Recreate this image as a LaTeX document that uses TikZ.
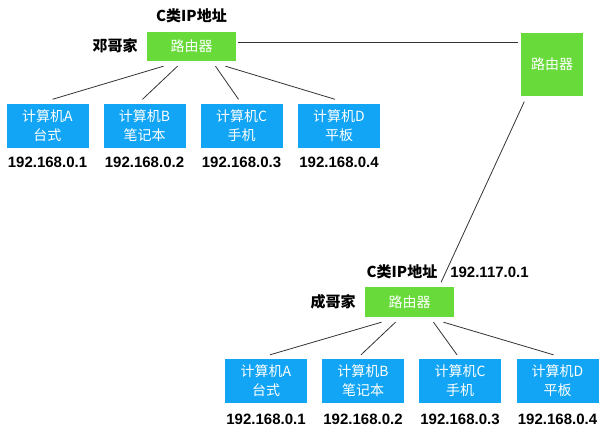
\documentclass[tikz,border=0pt]{standalone}
\usepackage{fontspec}
\setmainfont{Noto Sans CJK SC}
\newfontfamily\ipfont{Liberation Sans}
\definecolor{routergreen}{RGB}{104,219,58}
\definecolor{pcblue}{RGB}{18,165,245}
\begin{document}
\begin{tikzpicture}[x=1pt,y=-1pt,
        router/.style = {fill=routergreen,text=white,inner sep=0pt,font=\fontsize{14}{16}\selectfont},
        pc/.style = {fill=pcblue,text=white,inner sep=0pt,minimum width=82,minimum height=44,
                     align=center,font=\fontsize{14}{19}\selectfont},
        ip/.style = {font=\ipfont\fontsize{15}{17}\selectfont\bfseries},
        tag/.style = {font=\fontsize{15}{17}\selectfont\bfseries},
        link/.style = {thick,black!80}]
    \useasboundingbox (0,0) rectangle (614,432);
    % 邓哥家
    \node[router,minimum width=89,minimum height=29] (r1) at (191.5,46.5) {路由器};
    \node[tag] (n1) at (115,46) {邓哥家};
    \node[tag] (c1) at (191.5,16) {C类IP地址};
    \node[pc] (a1) at (47.5,125.5) {计算机A\\台式};
    \node[pc] (b1) at (144.5,125.5) {计算机B\\笔记本};
    \node[pc] (c1pc) at (241.5,125.5) {计算机C\\手机};
    \node[pc] (d1) at (339,125.5) {计算机D\\平板};
    \node[ip] (ia1) at (47.5,162) {192.168.0.1};
    \node[ip] (ib1) at (144.5,162) {192.168.0.2};
    \node[ip] (ic1) at (241.5,162) {192.168.0.3};
    \node[ip] (id1) at (339,162) {192.168.0.4};
    \draw[link] ([xshift=-28,yshift=-5]r1.south) -- ([xshift=5,yshift=4]a1.north);
    \draw[link] ([xshift=-14,yshift=-5]r1.south) -- ([xshift=-2,yshift=4]b1.north);
    \draw[link] ([xshift=24,yshift=-5]r1.south) -- ([xshift=-3,yshift=4]c1pc.north);
    \draw[link] ([xshift=34,yshift=-5]r1.south) -- ([xshift=-4,yshift=4]d1.north);
    % 中间路由器
    \node[router,minimum width=62,minimum height=63] (r2) at (552,64.5) {路由器};
    \draw[link] ([xshift=2,yshift=4.5]r1.east) -- ([xshift=-3,yshift=4.5]r1.east -| r2.west);
    % 成哥家
    \node[router,minimum width=89,minimum height=30] (r3) at (409.5,302) {路由器};
    \node[tag] (n3) at (333,302) {成哥家};
    \node[tag] (c3) at (402,272) {C类IP地址};
    \node[ip] (g3) at (489.5,272) {192.117.0.1};
    \draw[link,shorten <=6,shorten >=5] ([xshift=6]r2.south west) -- ([xshift=29.5]r3.north);
    \node[pc] (a3) at (266,381) {计算机A\\台式};
    \node[pc] (b3) at (363,381) {计算机B\\笔记本};
    \node[pc] (c3pc) at (460,381) {计算机C\\手机};
    \node[pc] (d3) at (557.5,381) {计算机D\\平板};
    \node[ip] (ia3) at (266,419) {192.168.0.1};
    \node[ip] (ib3) at (363,419) {192.168.0.2};
    \node[ip] (ic3) at (460,419) {192.168.0.3};
    \node[ip] (id3) at (557.5,419) {192.168.0.4};
    \draw[link] ([xshift=-28,yshift=-5]r3.south) -- ([xshift=4,yshift=4]a3.north);
    \draw[link] ([xshift=-14,yshift=-5]r3.south) -- ([xshift=-2,yshift=4]b3.north);
    \draw[link] ([xshift=24,yshift=-5]r3.south) -- ([xshift=-3,yshift=4]c3pc.north);
    \draw[link] ([xshift=34,yshift=-5]r3.south) -- ([xshift=-4,yshift=4]d3.north);
\end{tikzpicture}
\end{document}
